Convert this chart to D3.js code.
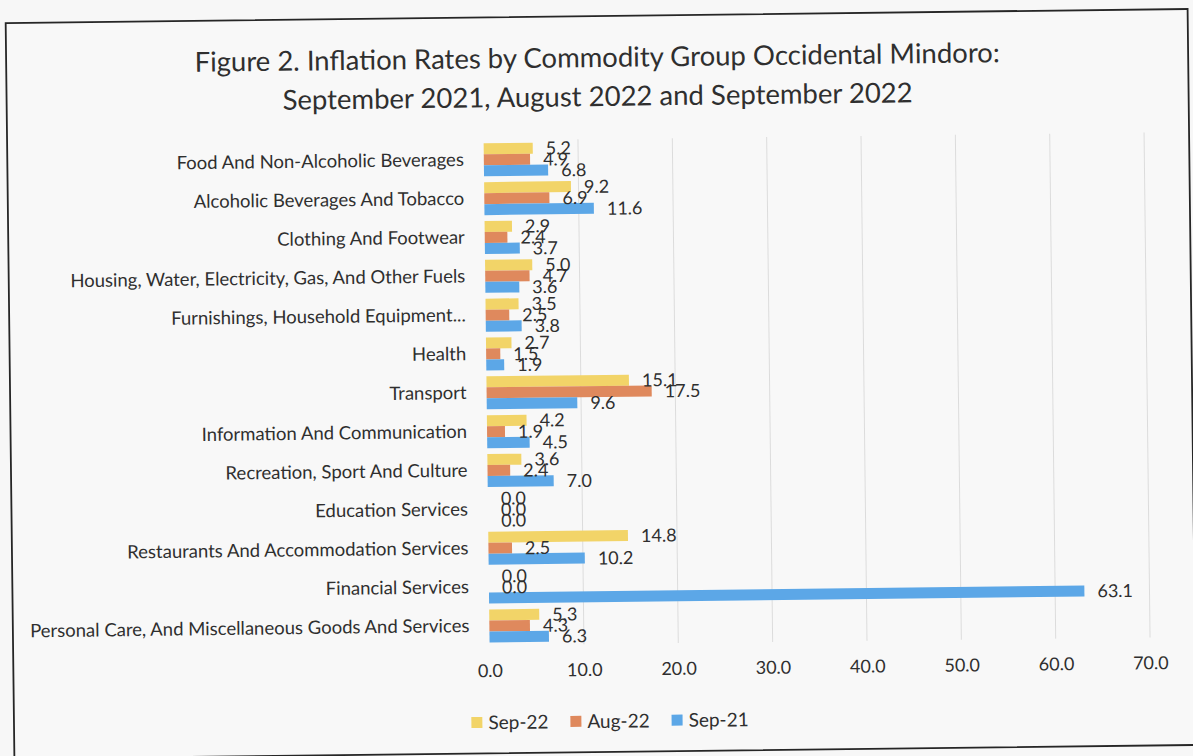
<!DOCTYPE html>
<html>
<head>
<meta charset="utf-8">
<script src="https://cdn.jsdelivr.net/npm/d3@7"></script>
<style>
  html, body { margin: 0; padding: 0; background: #f7f7f7; }
  svg { display: block; }
  text { font-family: Lato, "Open Sans", sans-serif; fill: #2f2f2f; }
</style>
</head>
<body>
<svg id="chart" width="1193" height="756"></svg>
<script>
// Commodity groups, top to bottom
const categories = [
  "Food And Non-Alcoholic Beverages",
  "Alcoholic Beverages And Tobacco",
  "Clothing And Footwear",
  "Housing, Water, Electricity, Gas, And Other Fuels",
  "Furnishings, Household Equipment...",
  "Health",
  "Transport",
  "Information And Communication",
  "Recreation, Sport And Culture",
  "Education Services",
  "Restaurants And Accommodation Services",
  "Financial Services",
  "Personal Care, And Miscellaneous Goods And Services"
];

// Inflation rates (%) per period
const sep22 = [5.2, 9.2, 2.9, 5.0, 3.5, 2.7, 15.1, 4.2, 3.6, 0.0, 14.8, 0.0, 5.3];
const aug22 = [4.9, 6.9, 2.4, 4.7, 2.5, 1.5, 17.5, 1.9, 2.4, 0.0, 2.5, 0.0, 4.3];
const sep21 = [6.8, 11.6, 3.7, 3.6, 3.8, 1.9, 9.6, 4.5, 7.0, 0.0, 10.2, 63.1, 6.3];

const seriesNames = ["Sep-22", "Aug-22", "Sep-21"];
const seriesValues = [sep22, aug22, sep21];
const seriesColors = ["#f2d468", "#df895d", "#5ca7e7"];

const xTicks = [0, 10, 20, 30, 40, 50, 60, 70];

const titleLines = [
  "Figure 2. Inflation Rates by Commodity Group Occidental Mindoro:",
  "September 2021, August 2022 and September 2022"
];

const svg = d3.select("#chart");
svg.append("rect").attr("width", 1193).attr("height", 756).attr("fill", "#f7f7f7");

// the printed page sits slightly tilted
const root = svg.append("g").attr("transform", "rotate(-0.68 601 384)");

root.append("rect")
  .attr("x", 10).attr("y", 16).attr("width", 1182).attr("height", 736)
  .attr("fill", "#f8f8f8").attr("stroke", "#262626").attr("stroke-width", 1.8);

// title
root.selectAll("text.title").data(titleLines).join("text")
  .attr("class", "title")
  .attr("x", 601).attr("y", (d, i) => 67 + i * 39)
  .attr("text-anchor", "middle")
  .style("font-size", "27.5px")
  .text(d => d);

const plot = { left: 486.5, right: 1147, top: 139, bottom: 644 };

const x = d3.scaleLinear().domain([0, 70]).range([plot.left, plot.right]);
const y = d3.scaleBand().domain(categories).range([plot.top, plot.bottom])
  .paddingInner(0.15).paddingOuter(0.075);
const ySub = d3.scaleBand().domain(seriesNames).range([0, y.bandwidth()]);

// vertical gridlines
root.append("g").selectAll("line").data(xTicks.filter(t => t > 0)).join("line")
  .attr("x1", d => x(d)).attr("x2", d => x(d))
  .attr("y1", plot.top).attr("y2", plot.bottom)
  .attr("stroke", "#dcdcdc").attr("stroke-width", 1);

// x axis tick labels
const xAxis = d3.axisBottom(x).tickValues(xTicks).tickFormat(d3.format(".1f")).tickSize(0).tickPadding(19);
const gx = root.append("g").attr("transform", `translate(0,${plot.bottom})`).call(xAxis);
gx.select(".domain").remove();
gx.selectAll("text").style("font-size", "18px").attr("fill", "#2f2f2f").style("font-family", "Lato, sans-serif");

// category labels
const yAxis = d3.axisLeft(y).tickSize(0).tickPadding(20);
const gy = root.append("g").attr("transform", `translate(${plot.left},0)`).call(yAxis);
gy.select(".domain").remove();
gy.selectAll("text").style("font-size", "18.5px").attr("fill", "#2f2f2f").style("font-family", "Lato, sans-serif");

// bars and value labels
const rows = [];
categories.forEach((c, i) => {
  seriesNames.forEach((s, j) => rows.push({ cat: c, series: s, value: seriesValues[j][i], color: seriesColors[j] }));
});

const barG = root.append("g");
barG.selectAll("rect").data(rows).join("rect")
  .attr("x", x(0))
  .attr("y", d => y(d.cat) + ySub(d.series))
  .attr("width", d => x(d.value) - x(0))
  .attr("height", ySub.bandwidth())
  .attr("fill", d => d.color);

barG.selectAll("text").data(rows).join("text")
  .attr("x", d => x(d.value) + 13)
  .attr("y", d => y(d.cat) + ySub(d.series) + ySub.bandwidth() / 2)
  .attr("dy", "0.36em")
  .style("font-size", "18px")
  .text(d => d3.format(".1f")(d.value));

// legend
const legend = root.append("g").attr("transform", "translate(0,721)");
const items = legend.selectAll("g").data(seriesNames).join("g");
items.append("rect").attr("width", 11).attr("height", 11).attr("y", -5.5)
  .attr("fill", (d, i) => seriesColors[i]);
items.append("text").attr("x", 17).attr("dy", "0.36em").style("font-size", "19px").text(d => d);
const widths = [];
items.each(function () {
  widths.push(17 + this.querySelector("text").getComputedTextLength());
});
const gap = 22;
const total = d3.sum(widths) + gap * (widths.length - 1);
let startX = 606 - total / 2;
items.attr("transform", (d, i) => {
  const tx = startX;
  startX += widths[i] + gap;
  return `translate(${tx},0)`;
});
</script>
</body>
</html>
